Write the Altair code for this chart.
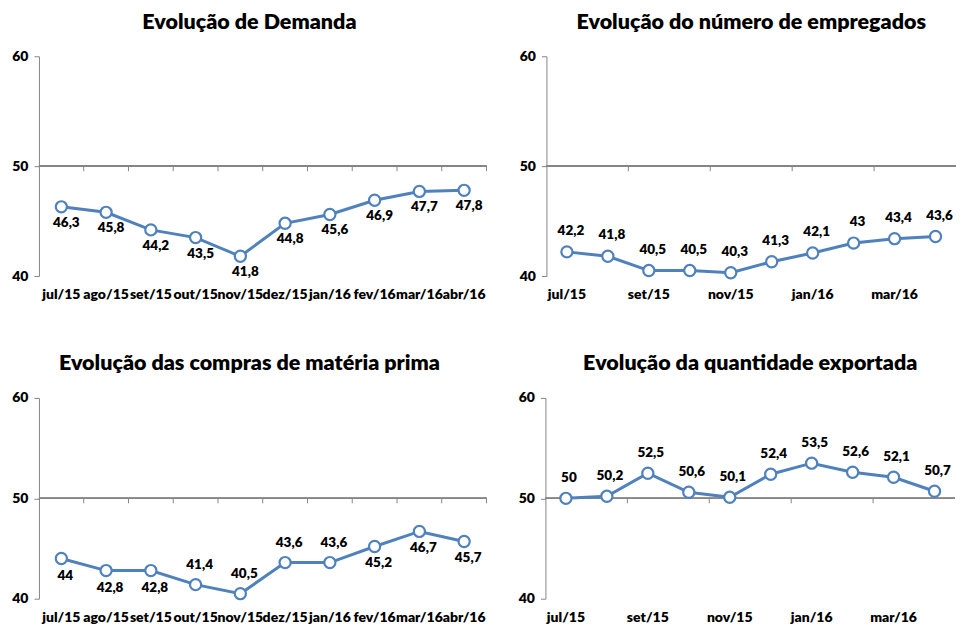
import altair as alt
import pandas as pd

FONT = "Lato"
AZUL = "#4F81BD"
CINZA = "#868686"

meses = ["jul/15", "ago/15", "set/15", "out/15", "nov/15",
         "dez/15", "jan/16", "fev/16", "mar/16", "abr/16"]
meses_alternados = ["jul/15", "set/15", "nov/15", "jan/16", "mar/16"]

demanda = [46.3, 45.8, 44.2, 43.5, 41.8, 44.8, 45.6, 46.9, 47.7, 47.8]
empregados = [42.2, 41.8, 40.5, 40.5, 40.3, 41.3, 42.1, 43.0, 43.4, 43.6]
compras = [44.0, 42.8, 42.8, 41.4, 40.5, 43.6, 43.6, 45.2, 46.7, 45.7]
exportada = [50.0, 50.2, 52.5, 50.6, 50.1, 52.4, 53.5, 52.6, 52.1, 50.7]

titulos = ["Evolução de Demanda", "Evolução do número de empregados",
           "Evolução das compras de matéria prima", "Evolução da quantidade exportada"]

# label placement (style): True = above the point
acima_demanda = [False] * 10
acima_empregados = [True] * 10
acima_compras = [False, False, False, True, True, True, True, False, False, False]
acima_exportada = [True] * 10

y_ticks = [40, 50, 60]


def fmt(v):
    return f"{v:g}".replace(".", ",")


def painel(valores, titulo, w, h, alternado, acima, dx, dy_abaixo, dy_acima,
           label_pad, frame):
    df = pd.DataFrame({
        "mes": meses,
        "valor": valores,
        "rotulo": [fmt(v) for v in valores],
        "acima": acima,
        "idx": list(range(len(meses))),
    })
    xaxis_kw = dict(title=None, domain=False, ticks=False, labelAngle=0,
                    labelFont=FONT, labelFontWeight=800, labelFontSize=14,
                    labelColor="black", labelPadding=label_pad,
                    labelOverlap=False, labelBound=False)
    if alternado:
        xaxis_kw["values"] = meses_alternados
    xaxis = alt.Axis(**xaxis_kw)
    xscale = alt.Scale(type="band", paddingInner=0, paddingOuter=0)
    yaxis = alt.Axis(values=y_ticks, title=None, grid=False, domainColor=CINZA,
                     tickColor=CINZA, tickSize=5, labelPadding=6, labelFont=FONT,
                     labelFontWeight=800, labelFontSize=14, labelColor="black")
    yscale = alt.Scale(domain=[40, 60], nice=False, zero=False)

    def X(**kw):
        return alt.X("mes:N", sort=meses, scale=xscale, axis=xaxis, **kw)

    def Y():
        return alt.Y("valor:Q", scale=yscale, axis=yaxis)

    base = alt.Chart(df)

    linha50 = base.mark_rule(color=CINZA, strokeWidth=1).encode(
        y=alt.Y(datum=50, scale=yscale, axis=yaxis),
        x=alt.value(0), x2=alt.value(w))

    if alternado:
        ticks = base.transform_filter(
            alt.FieldOneOfPredicate(field="idx", oneOf=[2, 4, 6, 8])
        ).mark_rule(color=CINZA, strokeWidth=1, y2Offset=5).encode(
            x=X(bandPosition=0),
            y=alt.Y(datum=50, scale=yscale, axis=yaxis),
            y2=alt.Y2(datum=50))
    else:
        ticks = base.mark_rule(color=CINZA, strokeWidth=1, y2Offset=5).encode(
            x=X(bandPosition=1),
            y=alt.Y(datum=50, scale=yscale, axis=yaxis),
            y2=alt.Y2(datum=50))

    linha = base.mark_line(color=AZUL, strokeWidth=3).encode(x=X(), y=Y())
    pontos = base.mark_point(filled=True, fill="white", stroke=AZUL, strokeWidth=2.2,
                             size=125, opacity=1, shape="circle").encode(x=X(), y=Y())
    txt_kw = dict(font=FONT, fontWeight=800, fontSize=13.5, color="black",
                  baseline="middle", align="center", dx=dx)
    txt_abaixo = base.transform_filter("!datum.acima").mark_text(
        dy=dy_abaixo, **txt_kw).encode(x=X(), y=Y(), text="rotulo:N")
    txt_acima = base.transform_filter("datum.acima").mark_text(
        dy=dy_acima, **txt_kw).encode(x=X(), y=Y(), text="rotulo:N")

    return alt.layer(linha50, ticks, linha, pontos, txt_abaixo, txt_acima).properties(
        width=w, height=h,
        title=alt.TitleParams(titulo, font=FONT, fontSize=21.5, fontWeight=800,
                              color="black", anchor="middle", offset=16, frame=frame))


p1 = painel(demanda, titulos[0], 448, 220, False, acima_demanda, 5, 16, -20, 11, "bounds")
p2 = painel(empregados, titulos[1], 410, 220, True, acima_empregados, 4, 16, -21, 11, "group")
p3 = painel(compras, titulos[2], 448, 201, False, acima_compras, 4, 17, -20, 12, "bounds")
p4 = painel(exportada, titulos[3], 410, 201, True, acima_exportada, 3, 16, -20, 12, "group")

chart = alt.vconcat(
    alt.hconcat(p1, p2, spacing=60, bounds="flush"),
    alt.hconcat(p3, p4, spacing=59, bounds="flush"),
    spacing=52,
).properties(
    padding={"left": 3, "top": 3, "right": 0, "bottom": 0}
).configure_view(stroke=None)

chart.save("out.html", embed_options={"renderer": "svg", "actions": False})
